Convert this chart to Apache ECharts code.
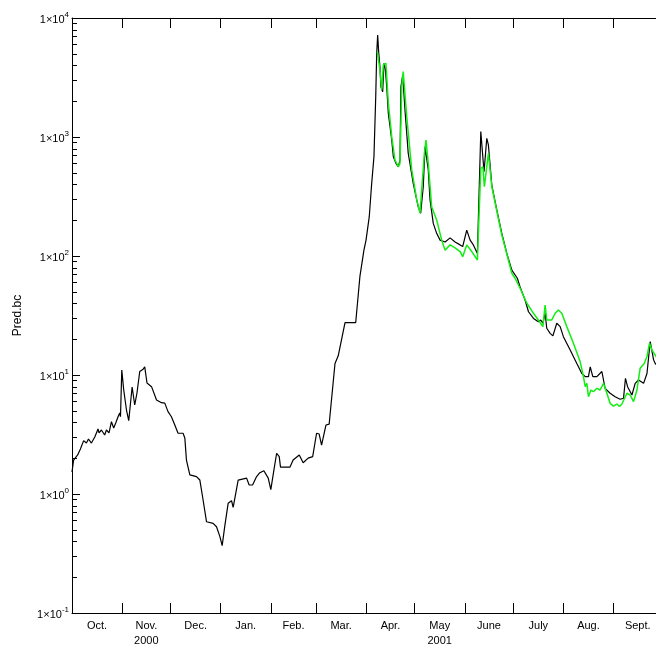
<!DOCTYPE html>
<html>
<head>
<meta charset="utf-8">
<script src="https://cdn.jsdelivr.net/npm/echarts@6/dist/echarts.min.js"></script>
<style>
html,body{margin:0;padding:0;background:#fff;}
#chart{width:656px;height:648px;}
</style>
</head>
<body>
<div id="chart"></div>
<script>
// x values are days since 2000-10-01
const startDate = '2000-10-01';
const monthStarts = [0,31,61,92,123,151,182,212,243,273,304,335,365];
const monthLabels = ['Oct.','Nov.\n2000','Dec.','Jan.','Feb.','Mar.','Apr.','May\n2001','June','July','Aug.','Sept.'];
const yMajor = [0.1,1,10,100,1000,10000];
const yMinor = [0.2,0.3,0.4,0.5,0.6,0.7,0.8,0.9,2,3,4,5,6,7,8,9,20,30,40,50,60,70,80,90,200,300,400,500,600,700,800,900,2000,3000,4000,5000,6000,7000,8000,9000];

const blackSeries = [[0,1.53],[1,1.93],[3.5,2.13],[5.2,2.39],[7.2,2.81],[8.9,2.68],[10.2,2.9],[12,2.68],[14.1,3.01],[16.1,3.52],[16.7,3.26],[18.2,3.45],[20.2,3.13],[21.3,3.45],[22.9,3.26],[24.4,4.05],[25.8,3.59],[27.1,3.97],[28.5,4.46],[29.5,4.8],[30,4.46],[30.8,11.0],[32,7.48],[33.7,5.08],[35.1,4.13],[37.2,7.93],[38.8,5.6],[40.2,7.06],[41.9,10.7],[44,11.2],[45,11.7],[46.4,8.57],[49.2,7.98],[52.3,6.17],[55.4,5.85],[57.4,5.8],[59.4,4.92],[61.5,4.46],[63.6,3.8],[65.6,3.24],[68.7,3.24],[69.8,2.96],[70.8,1.93],[72.9,1.45],[77,1.4],[79.1,1.31],[81.1,0.89],[83.2,0.585],[87.3,0.567],[89.4,0.531],[91.5,0.438],[92.9,0.368],[94.6,0.548],[96.6,0.835],[98.7,0.879],[99.7,0.773],[102.8,1.31],[108,1.36],[109.6,1.19],[111.7,1.19],[114.2,1.4],[116.2,1.51],[118.7,1.57],[121.4,1.36],[123,1.09],[124.9,1.59],[126.6,2.2],[128.2,2.06],[129,1.68],[134.8,1.68],[136.8,1.93],[140.6,2.13],[143,1.83],[146.1,2.0],[148.9,2.06],[151.3,3.24],[152.9,3.19],[154.4,2.58],[157.1,3.8],[159.1,3.87],[162.7,12.5],[164.7,14.5],[168.9,27.5],[175.5,27.5],[178.1,67],[180.6,112],[181.9,136],[183.9,214],[185.4,408],[186.8,683],[187.9,2183],[188.5,5050],[189.1,7200],[189.7,5210],[190.5,3900],[191.1,2650],[192.2,2400],[193,4160],[193.8,3780],[194.7,2650],[195.7,1580],[197.8,944],[198.8,683],[200.4,601],[201.9,562],[202.9,641],[203.5,2650],[204.6,3320],[206,1690],[208,730],[211.1,408],[214.2,259],[215.7,229],[217.3,382],[218.4,828],[220.4,528],[221.5,296],[223.5,188],[225.6,155],[227.7,136],[230.8,131],[233.9,142],[237,131],[240.1,124],[241.7,120],[244.2,165],[246.3,136],[248.3,124],[250.8,105],[252.9,1110],[254.9,511],[256.6,975],[257.6,857],[259.7,395],[262.8,244],[265.9,155],[269,105],[272.1,76],[275.5,65],[277.2,55],[280.3,42.7],[282.4,34],[285.5,29.9],[288.5,28],[290,29],[291.3,27.2],[292.7,33],[293.7,24.7],[295.8,22.4],[297.5,21.3],[299.9,27.2],[302,25.5],[304,21],[308.2,16.2],[312.3,12.5],[315.4,10.3],[317.5,9.68],[319.5,9.68],[320.6,11.7],[322.2,9.68],[324.7,9.68],[327.8,10.7],[329.8,7.73],[332.9,7.02],[336,6.57],[339.1,6.25],[341.2,6.38],[342.4,9.38],[343.7,7.98],[346.4,6.79],[348.4,8.51],[350.5,9.08],[353.6,8.51],[355.7,10.3],[357.7,19.1],[359.8,13.4],[360.8,12.5],[362.7,11.7]];

const greenSeries = [[188.9,5210],[190.5,3660],[191.6,2480],[192.6,4030],[194.2,4160],[195.7,1930],[197.8,1006],[199.8,641],[201.9,562],[202.9,601],[204,2650],[204.9,3540],[207.1,1480],[210.2,528],[213.3,296],[215.3,229],[216.3,221],[218,730],[219,944],[220.4,601],[222.5,259],[225.6,201],[228.7,136],[230.8,112],[233.9,124],[237,117],[240.1,109],[241.7,98.7],[244.2,124],[247.3,109],[250.8,92.5],[252.9,546],[254.2,562],[255.1,382],[257.6,730],[259.7,382],[265.9,150],[272.1,71.6],[274.1,65],[277.2,53.6],[281.4,40.1],[285.5,33],[288.5,29],[291.3,25.5],[292.7,38.7],[293.7,29],[296.8,29],[298.9,33],[300.9,35.2],[303,33],[306.1,25.5],[310.2,18.5],[314.4,12.9],[316.4,9.68],[317.5,7.98],[318.5,8.51],[319.5,6.57],[321,7.48],[322.6,7.24],[324.7,7.73],[326.7,7.48],[328.8,8.51],[330.9,7.02],[332.9,5.78],[335,5.48],[337.1,5.7],[338.7,5.43],[340.2,5.7],[343.3,7.02],[345.3,6.79],[347.4,5.97],[349.5,7.48],[351.5,11.4],[354,12.5],[355.7,14.3],[357.3,18.5],[358.8,16.2],[360.8,14.7],[362.5,13.5]];

const monthMids = monthStarts.slice(0, -1).map((s, i) => (s + monthStarts[i + 1]) / 2);
const FONT = "'Liberation Sans Narrow', 'Arial Narrow', 'Liberation Sans', sans-serif";
const GRID_W = 590;
const MAJOR_LEN = 8, MINOR_LEN = 5;

const chart = echarts.init(document.getElementById('chart'), null, {renderer: 'canvas'});
const axisLineStyle = {color: '#000', width: 1};

chart.setOption({
  backgroundColor: '#fff',
  animation: false,
  grid: {left: 72, top: 18, width: GRID_W, height: 595, show: false, containLabel: false, outerBoundsMode: 'none'},
  xAxis: [
    {
      type: 'value', min: 0, max: 365, position: 'bottom',
      axisLine: {show: true, onZero: false, lineStyle: axisLineStyle},
      axisTick: {show: true, inside: true, length: 10, lineStyle: axisLineStyle, customValues: monthStarts},
      axisLabel: {
        customValues: monthMids, margin: 5, color: '#000', fontSize: 11, lineHeight: 15,
        fontFamily: FONT,
        formatter: function (v) {
          const i = monthMids.findIndex(m => Math.abs(m - v) < 0.01);
          return i >= 0 ? monthLabels[i] : '';
        }
      },
      splitLine: {show: false}
    },
    {
      type: 'value', min: 0, max: 365, position: 'top',
      axisLine: {show: true, onZero: false, lineStyle: axisLineStyle},
      axisTick: {show: true, inside: true, length: 10, lineStyle: axisLineStyle, customValues: monthStarts},
      axisLabel: {show: false},
      splitLine: {show: false}
    }
  ],
  yAxis: [
    {
      type: 'log', logBase: 10, min: 0.1, max: 10000, position: 'left',
      name: 'Pred.bc', nameLocation: 'middle', nameGap: 48,
      nameTextStyle: {color: '#000', fontSize: 12, fontFamily: FONT},
      axisLine: {show: true, onZero: false, lineStyle: axisLineStyle},
      axisTick: {show: false},
      axisLabel: {
        margin: 3, color: '#000', fontFamily: FONT,
        formatter: function (v) {
          const e = Math.round(Math.log10(v));
          return '{a|1\u00d710}{b|' + e + '}';
        },
        rich: {
          a: {fontSize: 11, fontFamily: FONT, color: '#000', lineHeight: 14, verticalAlign: 'bottom'},
          b: {fontSize: 8, fontFamily: FONT, color: '#000', lineHeight: 8, verticalAlign: 'top'}
        }
      },
      splitLine: {show: false}
    }
  ],
  series: [
    {
      name: 'observed', type: 'line', data: blackSeries, xAxisIndex: 0, yAxisIndex: 0,
      showSymbol: false, symbol: 'none', smooth: false,
      lineStyle: {color: '#000', width: 1.2}, z: 2
    },
    {
      name: 'predicted', type: 'line', data: greenSeries, xAxisIndex: 0, yAxisIndex: 0,
      showSymbol: false, symbol: 'none', smooth: false,
      lineStyle: {color: '#11ee11', width: 1.5}, z: 3
    }
  ]
});

// y-axis tick marks positioned through the chart's own log scale
const x0 = chart.convertToPixel({xAxisIndex: 0}, 0);
const tickEls = [];
function addTicks(values, len) {
  values.forEach(function (v) {
    const py = chart.convertToPixel({yAxisIndex: 0}, v);
    if (py == null || isNaN(py)) return;
    const y = Math.round(py) + 0.5;
    const x = Math.round(x0);
    tickEls.push({
      type: 'line', silent: true, z: 100,
      shape: {x1: x, y1: y, x2: x + len, y2: y},
      style: {stroke: '#000', lineWidth: 1}
    });
  });
}
addTicks(yMajor, MAJOR_LEN);
addTicks(yMinor, MINOR_LEN);
chart.setOption({graphic: {elements: tickEls}});
</script>
</body>
</html>
